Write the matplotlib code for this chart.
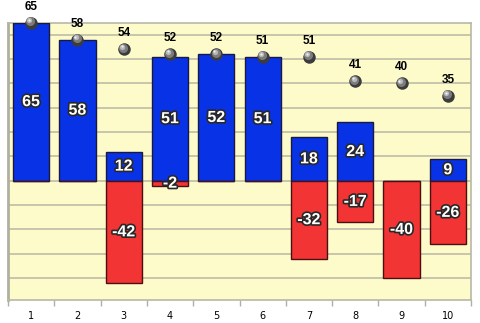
import matplotlib.pyplot as plt
import matplotlib.patheffects as pe
from matplotlib.transforms import offset_copy
import numpy as np

categories = ["1", "2", "3", "4", "5", "6", "7", "8", "9", "10"]
positive = [65, 58, 12, 51, 52, 51, 18, 24, 0, 9]
negative = [0, 0, -42, -2, 0, 0, -32, -17, -40, -26]
totals = [65, 58, 54, 52, 52, 51, 51, 41, 40, 35]

plt.rcParams['font.family'] = ['Liberation Sans', 'DejaVu Sans']

fig = plt.figure(figsize=(4.8, 3.23), dpi=100)
ax = fig.add_axes([8 / 480, 23 / 323, 463 / 480, 277.5 / 323])
ax.set_facecolor('#fefbcb')

x = np.arange(1, len(categories) + 1)
ax.bar(x, positive, width=0.78, color='#0832e6', edgecolor='#1a1a40', linewidth=1.0, zorder=3)
ax.bar(x, negative, width=0.78, color='#f23434', edgecolor='#4a1010', linewidth=1.0, zorder=3)

outline = [pe.withStroke(linewidth=2.4, foreground='#282828')]
for xi, p, n in zip(x, positive, negative):
    if p != 0:
        ax.text(xi, p / 2, str(p), ha='center', va='center', color='white',
                fontsize=11.5, fontweight='bold', path_effects=outline, zorder=5)
    if n != 0:
        ax.text(xi, n / 2, str(n), ha='center', va='center', color='white',
                fontsize=11.5, fontweight='bold', path_effects=outline, zorder=5)

# sphere-like markers for the totals
ax.plot(x, totals, 'o', ms=9, color='#3c3c3c', mec='none', zorder=6, clip_on=False)
shade = offset_copy(ax.transData, fig=fig, x=-0.6, y=0.8, units='points')
ax.plot(x, totals, 'o', ms=6.5, color='#7c7c7c', mec='none', zorder=7, clip_on=False, transform=shade)
hl = offset_copy(ax.transData, fig=fig, x=-1.2, y=1.6, units='points')
ax.plot(x, totals, 'o', ms=3.8, color='#b8b8b8', mec='none', zorder=8, clip_on=False, transform=hl)
hl2 = offset_copy(ax.transData, fig=fig, x=-1.5, y=2.0, units='points')
ax.plot(x, totals, 'o', ms=1.6, color='#f0f0f0', mec='none', zorder=9, clip_on=False, transform=hl2)

for xi, t in zip(x, totals):
    ax.annotate(str(t), (xi, t), xytext=(0, 11.5), textcoords='offset points',
                ha='center', va='center', fontsize=8.5, fontweight='bold',
                color='#000000', zorder=10, annotation_clip=False)

ax.set_xlim(0.5, 10.5)
ax.set_ylim(-49, 65)
ax.set_yticks(np.arange(-40, 61, 10))
ax.yaxis.grid(True, color='#c4c2a8', linewidth=1.3, zorder=1)
ax.tick_params(axis='y', left=False, labelleft=False)

ax.set_xticks(x)
ax.set_xticklabels(categories, fontsize=7, family='DejaVu Sans')
ax.set_xticks(np.arange(0.5, 10.6, 1), minor=True)
ax.tick_params(axis='x', which='major', length=0, pad=8)
ax.tick_params(axis='x', which='minor', length=4, color='#b0b0a0', width=1)

for side in ['top', 'right', 'bottom']:
    ax.spines[side].set_color('#b8b8a8')
    ax.spines[side].set_linewidth(1.2)
ax.spines['left'].set_color('#b0b0a0')
ax.spines['left'].set_linewidth(2)

fig.savefig('out.png', dpi=100)
